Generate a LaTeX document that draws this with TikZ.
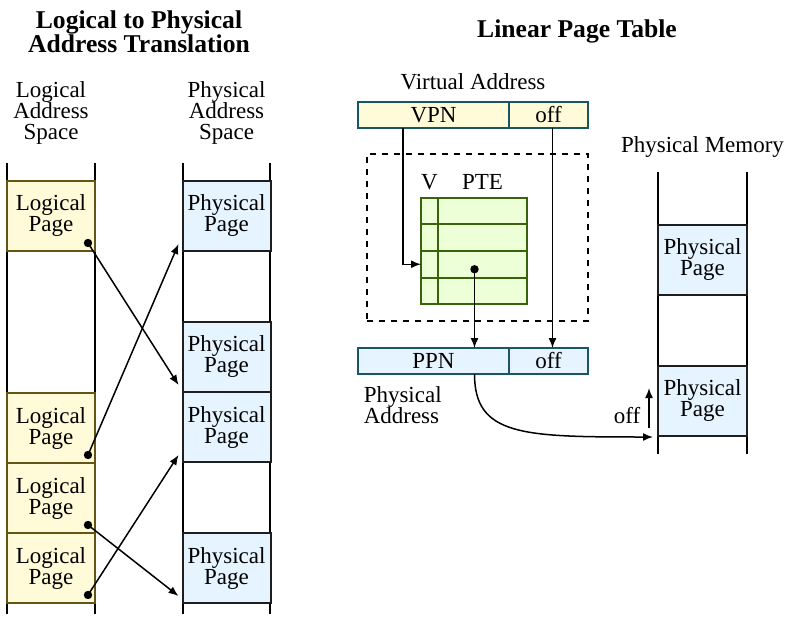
\documentclass[tikz,border=0pt]{standalone}
\usepackage{fontspec}
\setmainfont{Liberation Serif}
\usetikzlibrary{positioning, arrows.meta, calc}
\definecolor{logfill}{RGB}{255,250,215}
\definecolor{logdraw}{RGB}{100,85,20}
\definecolor{physfill}{RGB}{230,244,255}
\definecolor{physdraw}{RGB}{30,30,30}
\definecolor{addrdraw}{RGB}{25,85,100}
\definecolor{ptefill}{RGB}{236,255,214}
\definecolor{ptedraw}{RGB}{55,100,10}

\begin{document}
\begin{tikzpicture}[x=0.5pt, y=-0.5pt,
    every node/.style={font=\fontsize{11.5}{10.5}\selectfont, align=center, inner sep=0pt},
    logpage/.style={draw=logdraw, fill=logfill, line width=1pt, minimum width=44pt, minimum height=35pt},
    physpage/.style={draw=physdraw, fill=physfill, line width=1pt, minimum width=44pt, minimum height=35pt},
    addr/.style={draw=addrdraw, line width=1pt, outer sep=0pt, minimum height=13pt},
    ptecell/.style={draw=ptedraw, fill=ptefill, line width=1pt, outer sep=0pt, minimum height=13.25pt},
    heading/.style={font=\fontsize{12.8}{12}\selectfont\bfseries},
    wall/.style={line width=1pt},
    pagedot/.style={circle, fill, minimum size=4.2pt},
    >={Latex[length=5pt,width=4pt]}, line width=0.75pt
  ]
  \useasboundingbox (0,0) rectangle (786,620);

  % left: logical to physical
  \node[heading] (lefttitle) at (139,32) {Logical to Physical\\Address Translation};
  \node (lashead) at (51,113) {Logical\\Address\\Space};
  \node (pashead) at (226.5,113) {Physical\\Address\\Space};
  \foreach \x in {7,95,183,270}
    \draw[wall] (\x,163) -- (\x,614);
  \foreach \n/\y in {1/216, 2/428, 3/498, 4/568}
    \node[logpage] (log\n) at (51,\y) {Logical\\Page};
  \foreach \n/\y in {1/216, 2/357, 3/427, 4/568}
    \node[physpage] (phys\n) at (226.5,\y) {Physical\\Page};
  \foreach \n in {1,...,4}
    \node[pagedot] (ldot\n) at ($(log\n.south east)+(-8,-9)$) {};
  \foreach \a/\b in {1/2, 2/1, 3/4, 4/3}
    \draw[->] (ldot\a.center) -- ($(phys\b.south west)+(-3,-8)$);

  % right: linear page table
  \node[heading] (righttitle) at (577,31) {Linear Page Table};
  \node (vahead) at (473,82) {Virtual Address};
  \node[addr, fill=logfill, minimum width=75.5pt] (vpn) at (433.5,115) {VPN};
  \node[addr, fill=logfill, minimum width=39.5pt, right=0pt of vpn] (voff) {off};
  \node[draw, dashed, minimum width=110.5pt, minimum height=83.5pt] (ptbox) at (477.5,237.5) {};
  \node (vlabel) at (429.5,182) {V};
  \node (ptelabel) at (482.5,182) {PTE};
  \foreach \r/\y in {1/211.25, 2/237.75, 3/264.25, 4/290.75} {
    \node[ptecell, minimum width=8.5pt] (v\r) at (429.5,\y) {};
    \node[ptecell, minimum width=44.5pt, right=0pt of v\r] (pte\r) {};
  }
  \node[addr, fill=physfill, minimum width=75.5pt] (ppn) at (433.5,361) {PPN};
  \node[addr, fill=physfill, minimum width=39.5pt, right=0pt of ppn] (ppnoff) {off};
  \node[align=left, anchor=north west] (palabel) at (363,386) {Physical\\Address};
  \node[pagedot] (ptedot) at ($(pte3.center)+(-8,5)$) {};
  \draw[->] ($(vpn.south west)+(45,0)$) |- (v3.west);
  \draw[->] (ptedot.center) -- (ptedot |- ppn.north);
  \draw[->] ($(voff.south)+(4,0)$) -- ($(ppnoff.north)+(4,0)$);

  % physical memory
  \node (pmhead) at (702.5,147) {Physical Memory};
  \foreach \x in {658,747}
    \draw[wall] (\x,172) -- (\x,454);
  \node[physpage, minimum width=44.5pt] (mem1) at (702.5,260) {Physical\\Page};
  \node[physpage, minimum width=44.5pt] (mem2) at (702.5,401) {Physical\\Page};
  \draw[->] (ptedot |- ppn.south) .. controls +(0,62) and +(-130,0) .. ($(mem2.south west)+(-4,0)$);
  \draw[->] ($(mem2.south west)+(-8,-9)$) -- ($(mem2.west)+(-8,-13)$);
  \node[anchor=east] (offlabel) at ($(mem2.south west)+(-16,-21)$) {off};
\end{tikzpicture}
\end{document}
